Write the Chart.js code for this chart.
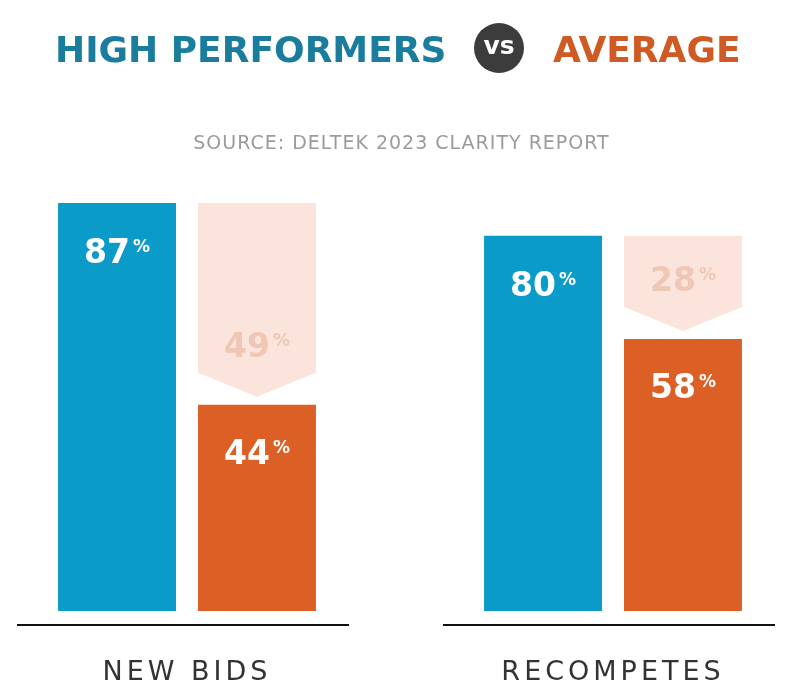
<!DOCTYPE html>
<html>
<head>
<meta charset="utf-8">
<script src="https://cdn.jsdelivr.net/npm/chart.js@4.4.1/dist/chart.umd.min.js"></script>
<style>
  html, body { margin: 0; padding: 0; background: #fff; }
  body { width: 793px; height: 697px; position: relative; overflow: hidden; }
  #wrap { position: absolute; left: 0; top: 0; width: 793px; height: 697px; }
  .t { position: absolute; white-space: nowrap; font-family: "DejaVu Sans", sans-serif; }
  #hp { left: 55px; top: 32px; font-size: 36px; line-height: 36px; font-weight: 700; color: #1a7d9d; }
  #avg { left: 553px; top: 32px; font-size: 36px; line-height: 36px; font-weight: 700; color: #d05a24; }
  #vs { left: 474px; top: 23px; width: 50px; height: 50px; border-radius: 50%; background: #3c3c3c;
        color: #fff; font-size: 25px; line-height: 46px; font-weight: 700; text-align: center; }
  #src { left: 5px; width: 793px; top: 133px; font-size: 19px; line-height: 19px; color: #9b9b9b;
         text-align: center; letter-spacing: 1px; }
</style>
</head>
<body>
<div id="wrap"><canvas id="chart"></canvas></div>
<div class="t" id="hp">HIGH PERFORMERS</div>
<div class="t" id="vs">vs</div>
<div class="t" id="avg">AVERAGE</div>
<div class="t" id="src">SOURCE: DELTEK 2023 CLARITY REPORT</div>

<script>
// ---- data ----
const categories = ["NEW BIDS", "RECOMPETES"];
const highPerformers = [87, 80];
const average = [44, 58];
const gapPct = [49, 28];

const BLUE = "#0b9bc8";
const ORANGE = "#dc5f25";
const PINK = "#fbe4db";
const PINK_TEXT = "#efc7b4";

// label with small raised % sign
function drawPct(ctx, value, cx, baseline, color) {
  const big = "bold 33px 'DejaVu Sans'";
  const small = "bold 17px 'DejaVu Sans'";
  ctx.font = big;
  const dw = ctx.measureText(String(value)).width;
  ctx.font = small;
  const pw = ctx.measureText("%").width;
  const x0 = cx - (dw + 3 + pw) / 2;
  ctx.fillStyle = color;
  ctx.textAlign = "left";
  ctx.textBaseline = "alphabetic";
  ctx.font = big;
  ctx.fillText(String(value), x0, baseline);
  ctx.font = small;
  ctx.fillText("%", x0 + dw + 3, baseline - 11);
}

// pale arrow between the two bars + all value labels + the two base lines
const gapPlugin = {
  id: "gapPlugin",
  beforeDraw(chart) {
    chart.ctx.letterSpacing = "4px";
  },
  beforeDatasetsDraw(chart) {
    const ctx = chart.ctx;
    ctx.letterSpacing = "0px";
    const y = chart.scales.y;
    const avgMeta = chart.getDatasetMeta(1);
    ctx.save();
    ctx.fillStyle = PINK;
    avgMeta.data.forEach((bar, i) => {
      const top = y.getPixelForValue(highPerformers[i]);
      const l = bar.x - bar.width / 2, r = bar.x + bar.width / 2;
      ctx.beginPath();
      ctx.moveTo(l, top);
      ctx.lineTo(r, top);
      ctx.lineTo(r, bar.y - 32);
      ctx.lineTo(bar.x, bar.y - 8);
      ctx.lineTo(l, bar.y - 32);
      ctx.closePath();
      ctx.fill();
    });
    // base lines under each group
    ctx.strokeStyle = "#111";
    ctx.lineWidth = 2;
    const x = chart.scales.x;
    categories.forEach((c, i) => {
      const cx = x.getPixelForValue(i);
      ctx.beginPath();
      ctx.moveTo(cx - 170, chart.chartArea.bottom + 14);
      ctx.lineTo(cx + 162, chart.chartArea.bottom + 14);
      ctx.stroke();
    });
    ctx.restore();
  },
  afterDatasetsDraw(chart) {
    const ctx = chart.ctx;
    ctx.save();
    const hiMeta = chart.getDatasetMeta(0);
    const avgMeta = chart.getDatasetMeta(1);
    hiMeta.data.forEach((bar, i) => drawPct(ctx, highPerformers[i], bar.x, bar.y + 60, "#fff"));
    avgMeta.data.forEach((bar, i) => {
      drawPct(ctx, average[i], bar.x, bar.y + 59, "#fff");
      drawPct(ctx, gapPct[i], bar.x, bar.y - 48, PINK_TEXT);
    });
    ctx.restore();
  }
};

new Chart(document.getElementById("chart"), {
  type: "bar",
  data: {
    labels: categories,
    datasets: [
      { label: "High performers", data: highPerformers, backgroundColor: BLUE },
      { label: "Average", data: average, backgroundColor: ORANGE }
    ]
  },
  options: {
    responsive: true,
    maintainAspectRatio: false,
    animation: false,
    events: [],
    categoryPercentage: 0.657,
    barPercentage: 0.843,
    clip: false,
    layout: { padding: { top: 142, left: 187, right: 180, bottom: 0 } },
    plugins: { legend: { display: false }, tooltip: { enabled: false } },
    scales: {
      x: {
        offset: false,
        grid: { display: false, drawTicks: false },
        border: { display: false },
        ticks: { color: "#333", padding: 46, font: { family: "DejaVu Sans", size: 27, weight: "normal" } },
        afterFit(scale) { scale.height = 86; }
      },
      y: { display: false, min: 0, max: 100 }
    }
  },
  plugins: [gapPlugin]
});
</script>
</body>
</html>
